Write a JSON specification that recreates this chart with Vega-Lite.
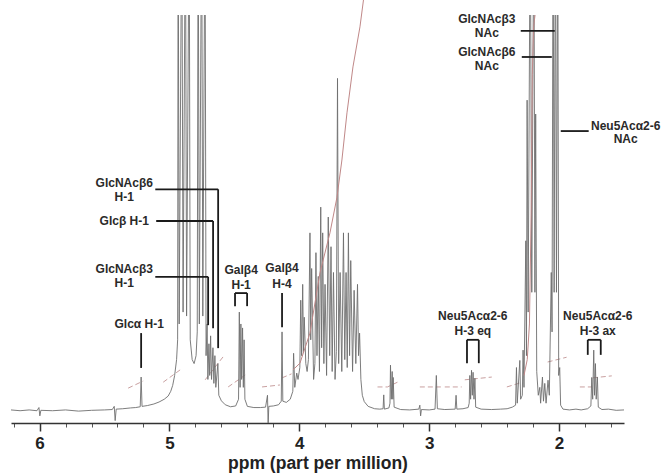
{
  "$schema": "https://vega.github.io/schema/vega-lite/v6.json",
  "width": 613,
  "height": 408,
  "autosize": {"type": "none"},
  "padding": {"left": 11, "top": 15, "right": 39, "bottom": 50},
  "background": "white",
  "config": {"view": {"stroke": null}},
  "datasets": {
    "spectrum": [
      {"ppm": 6.22, "v": 0.3}, {"ppm": 6.15, "v": 0.1}, {"ppm": 6.08, "v": 0.3}, {"ppm": 6.02, "v": 0.1},
      {"ppm": 6.005, "v": 0.9}, {"ppm": 5.998, "v": -1.2}, {"ppm": 5.99, "v": 0.2}, {"ppm": 5.9, "v": 0.1},
      {"ppm": 5.8, "v": 0.3}, {"ppm": 5.7, "v": 0.0}, {"ppm": 5.6, "v": 0.2}, {"ppm": 5.5, "v": 0.3},
      {"ppm": 5.44, "v": 0.4}, {"ppm": 5.425, "v": 1.2}, {"ppm": 5.418, "v": -2.4}, {"ppm": 5.41, "v": 0.5},
      {"ppm": 5.36, "v": 0.6}, {"ppm": 5.3, "v": 0.8}, {"ppm": 5.26, "v": 0.9}, {"ppm": 5.225, "v": 1.1},
      {"ppm": 5.218, "v": 8.6}, {"ppm": 5.211, "v": 1.2}, {"ppm": 5.17, "v": 1.4}, {"ppm": 5.12, "v": 1.8},
      {"ppm": 5.08, "v": 2.3}, {"ppm": 5.04, "v": 3.0}, {"ppm": 5.01, "v": 3.8}, {"ppm": 4.99, "v": 5.0},
      {"ppm": 4.975, "v": 6.5}, {"ppm": 4.96, "v": 9}, {"ppm": 4.945, "v": 13}, {"ppm": 4.937, "v": 18},
      {"ppm": 4.933, "v": 130}, {"ppm": 4.925, "v": 22}, {"ppm": 4.905, "v": 130}, {"ppm": 4.895, "v": 25},
      {"ppm": 4.877, "v": 130}, {"ppm": 4.868, "v": 24},
      {"ppm": 4.848, "v": 130}, {"ppm": 4.84, "v": 18}, {"ppm": 4.825, "v": 13}, {"ppm": 4.81, "v": 12},
      {"ppm": 4.795, "v": 14}, {"ppm": 4.786, "v": 20}, {"ppm": 4.779, "v": 130}, {"ppm": 4.77, "v": 22},
      {"ppm": 4.752, "v": 130}, {"ppm": 4.743, "v": 24},
      {"ppm": 4.726, "v": 130}, {"ppm": 4.718, "v": 14}, {"ppm": 4.71, "v": 22}, {"ppm": 4.704, "v": 8},
      {"ppm": 4.696, "v": 17}, {"ppm": 4.69, "v": 9}, {"ppm": 4.683, "v": 19}, {"ppm": 4.676, "v": 8},
      {"ppm": 4.665, "v": 16}, {"ppm": 4.658, "v": 7}, {"ppm": 4.65, "v": 14}, {"ppm": 4.643, "v": 6},
      {"ppm": 4.627, "v": 12}, {"ppm": 4.62, "v": 4}, {"ppm": 4.6, "v": 2.6}, {"ppm": 4.57, "v": 1.6},
      {"ppm": 4.53, "v": 1.1}, {"ppm": 4.49, "v": 1.3}, {"ppm": 4.468, "v": 3}, {"ppm": 4.462, "v": 25},
      {"ppm": 4.456, "v": 6}, {"ppm": 4.45, "v": 22}, {"ppm": 4.444, "v": 8}, {"ppm": 4.437, "v": 21},
      {"ppm": 4.431, "v": 6}, {"ppm": 4.425, "v": 18}, {"ppm": 4.419, "v": 3}, {"ppm": 4.4, "v": 1.2},
      {"ppm": 4.35, "v": 0.9}, {"ppm": 4.3, "v": 0.9}, {"ppm": 4.26, "v": 1.0}, {"ppm": 4.245, "v": 4},
      {"ppm": 4.24, "v": -3.5}, {"ppm": 4.235, "v": 1.2}, {"ppm": 4.2, "v": 1.3}, {"ppm": 4.16, "v": 1.6},
      {"ppm": 4.139, "v": 2.5}, {"ppm": 4.133, "v": 20}, {"ppm": 4.127, "v": 2.5}, {"ppm": 4.1, "v": 2.2},
      {"ppm": 4.07, "v": 3}, {"ppm": 4.05, "v": 5}, {"ppm": 4.044, "v": 14.6}, {"ppm": 4.035, "v": 6},
      {"ppm": 4.02, "v": 9.6}, {"ppm": 4.01, "v": 8}, {"ppm": 3.996, "v": 11}, {"ppm": 3.989, "v": 28},
      {"ppm": 3.982, "v": 14}, {"ppm": 3.974, "v": 32}, {"ppm": 3.968, "v": 15}, {"ppm": 3.962, "v": 23.7},
      {"ppm": 3.95, "v": 12}, {"ppm": 3.94, "v": 10}, {"ppm": 3.93, "v": 13}, {"ppm": 3.918, "v": 45},
      {"ppm": 3.912, "v": 18}, {"ppm": 3.905, "v": 36}, {"ppm": 3.89, "v": 8}, {"ppm": 3.88, "v": 12},
      {"ppm": 3.872, "v": 40}, {"ppm": 3.864, "v": 14}, {"ppm": 3.854, "v": 34}, {"ppm": 3.845, "v": 10},
      {"ppm": 3.835, "v": 51.5}, {"ppm": 3.828, "v": 16}, {"ppm": 3.82, "v": 45}, {"ppm": 3.811, "v": 12},
      {"ppm": 3.802, "v": 32}, {"ppm": 3.79, "v": 9}, {"ppm": 3.777, "v": 49}, {"ppm": 3.766, "v": 14},
      {"ppm": 3.756, "v": 41.5}, {"ppm": 3.747, "v": 10}, {"ppm": 3.737, "v": 35}, {"ppm": 3.725, "v": 8},
      {"ppm": 3.715, "v": 15}, {"ppm": 3.706, "v": 84}, {"ppm": 3.697, "v": 12}, {"ppm": 3.686, "v": 35},
      {"ppm": 3.673, "v": 10}, {"ppm": 3.66, "v": 45}, {"ppm": 3.65, "v": 13}, {"ppm": 3.64, "v": 35},
      {"ppm": 3.631, "v": 11}, {"ppm": 3.622, "v": 45}, {"ppm": 3.613, "v": 14}, {"ppm": 3.604, "v": 38},
      {"ppm": 3.59, "v": 10}, {"ppm": 3.578, "v": 30.5}, {"ppm": 3.565, "v": 12}, {"ppm": 3.552, "v": 32},
      {"ppm": 3.544, "v": 14}, {"ppm": 3.536, "v": 19.7}, {"ppm": 3.526, "v": 8}, {"ppm": 3.515, "v": 4},
      {"ppm": 3.5, "v": 2.4}, {"ppm": 3.47, "v": 1.2}, {"ppm": 3.42, "v": 0.6}, {"ppm": 3.38, "v": 0.5},
      {"ppm": 3.355, "v": 0.6}, {"ppm": 3.35, "v": 4.1}, {"ppm": 3.345, "v": 0.5}, {"ppm": 3.31, "v": 0.8},
      {"ppm": 3.302, "v": 2}, {"ppm": 3.298, "v": 11.6}, {"ppm": 3.292, "v": 3}, {"ppm": 3.285, "v": 10},
      {"ppm": 3.28, "v": 3}, {"ppm": 3.277, "v": 8.5}, {"ppm": 3.27, "v": 1}, {"ppm": 3.22, "v": 0.4},
      {"ppm": 3.15, "v": 0.3}, {"ppm": 3.08, "v": 0.5}, {"ppm": 3.072, "v": 1.5}, {"ppm": 3.066, "v": -1.2},
      {"ppm": 3.06, "v": 0.4}, {"ppm": 3.0, "v": 0.3}, {"ppm": 2.955, "v": 0.5}, {"ppm": 2.945, "v": 9},
      {"ppm": 2.937, "v": 0.6}, {"ppm": 2.88, "v": 0.4}, {"ppm": 2.8, "v": 0.5}, {"ppm": 2.793, "v": 4},
      {"ppm": 2.787, "v": 0.5}, {"ppm": 2.74, "v": 0.6}, {"ppm": 2.7, "v": 0.9}, {"ppm": 2.692, "v": 2},
      {"ppm": 2.687, "v": 9}, {"ppm": 2.681, "v": 3}, {"ppm": 2.674, "v": 10.3}, {"ppm": 2.668, "v": 4},
      {"ppm": 2.662, "v": 9.8}, {"ppm": 2.655, "v": 3}, {"ppm": 2.648, "v": 8.3}, {"ppm": 2.642, "v": 1},
      {"ppm": 2.6, "v": 0.5}, {"ppm": 2.52, "v": 0.4}, {"ppm": 2.45, "v": 0.5}, {"ppm": 2.4, "v": 0.6},
      {"ppm": 2.36, "v": 1}, {"ppm": 2.335, "v": 1.5}, {"ppm": 2.328, "v": 11}, {"ppm": 2.322, "v": 2},
      {"ppm": 2.302, "v": 12.8}, {"ppm": 2.296, "v": 3}, {"ppm": 2.283, "v": 4}, {"ppm": 2.277, "v": 15.4},
      {"ppm": 2.27, "v": 6}, {"ppm": 2.256, "v": 43}, {"ppm": 2.251, "v": 14}, {"ppm": 2.246, "v": 78.5},
      {"ppm": 2.238, "v": 25}, {"ppm": 2.222, "v": 130}, {"ppm": 2.21, "v": 30}, {"ppm": 2.194, "v": 130},
      {"ppm": 2.186, "v": 30}, {"ppm": 2.18, "v": 75}, {"ppm": 2.172, "v": 10}, {"ppm": 2.16, "v": 4},
      {"ppm": 2.148, "v": 6}, {"ppm": 2.142, "v": 2}, {"ppm": 2.128, "v": 8.6}, {"ppm": 2.12, "v": 2.5},
      {"ppm": 2.11, "v": 7}, {"ppm": 2.1, "v": 2}, {"ppm": 2.085, "v": 7.8}, {"ppm": 2.075, "v": 4},
      {"ppm": 2.06, "v": 35}, {"ppm": 2.054, "v": 20}, {"ppm": 2.046, "v": 130}, {"ppm": 2.038, "v": 30},
      {"ppm": 2.028, "v": 130}, {"ppm": 2.02, "v": 30}, {"ppm": 2.01, "v": 130}, {"ppm": 2.003, "v": 9},
      {"ppm": 1.995, "v": 11}, {"ppm": 1.988, "v": 1.5}, {"ppm": 1.97, "v": 0.5}, {"ppm": 1.92, "v": 0.3},
      {"ppm": 1.87, "v": 0.5}, {"ppm": 1.83, "v": 0.3}, {"ppm": 1.78, "v": 0.6}, {"ppm": 1.755, "v": 1.3},
      {"ppm": 1.748, "v": 8.5}, {"ppm": 1.741, "v": 3}, {"ppm": 1.733, "v": 15.4}, {"ppm": 1.727, "v": 4},
      {"ppm": 1.72, "v": 12}, {"ppm": 1.714, "v": 3}, {"ppm": 1.705, "v": 8.6}, {"ppm": 1.698, "v": 1},
      {"ppm": 1.67, "v": 0.4}, {"ppm": 1.62, "v": 0.5}, {"ppm": 1.56, "v": 0.2}, {"ppm": 1.5, "v": 0.3}
    ],
    "integral": [
      {"seg": "a", "ppm": 5.318, "v": 5.8}, {"seg": "a", "ppm": 5.202, "v": 7.6},
      {"seg": "b", "ppm": 5.048, "v": 7.3}, {"seg": "b", "ppm": 4.918, "v": 10.4},
      {"seg": "c", "ppm": 4.725, "v": 7.9}, {"seg": "c", "ppm": 4.587, "v": 13.7},
      {"seg": "d", "ppm": 4.548, "v": 6.1}, {"seg": "d", "ppm": 4.417, "v": 9.1},
      {"seg": "e", "ppm": 4.287, "v": 6.1}, {"seg": "e", "ppm": 4.149, "v": 6.6},
      {"seg": "f", "ppm": 4.133, "v": 8.4}, {"seg": "f", "ppm": 4.06, "v": 9.4},
      {"seg": "h", "ppm": 3.398, "v": 6.1}, {"seg": "h", "ppm": 3.321, "v": 6.1}, {"seg": "h", "ppm": 3.244, "v": 7.3},
      {"seg": "i", "ppm": 3.072, "v": 6.1}, {"seg": "i", "ppm": 2.903, "v": 6.1},
      {"seg": "j", "ppm": 2.88, "v": 6.1}, {"seg": "j", "ppm": 2.75, "v": 6.1},
      {"seg": "k", "ppm": 2.726, "v": 7.9}, {"seg": "k", "ppm": 2.518, "v": 8.6},
      {"seg": "l", "ppm": 2.402, "v": 6.1}, {"seg": "l", "ppm": 2.302, "v": 7.1},
      {"seg": "m", "ppm": 2.088, "v": 12.4}, {"seg": "m", "ppm": 1.942, "v": 13.6},
      {"seg": "n", "ppm": 1.84, "v": 6.1}, {"seg": "n", "ppm": 1.748, "v": 6.1},
      {"seg": "o", "ppm": 1.74, "v": 8.4}, {"seg": "o", "ppm": 1.594, "v": 8.9}
    ],
    "integralLong": [
      {"seg": "g", "ppm": 4.049, "v": 10.4}, {"seg": "g", "ppm": 3.995, "v": 12.1}, {"seg": "g", "ppm": 3.918, "v": 19.7},
      {"seg": "g", "ppm": 3.841, "v": 34.9}, {"seg": "g", "ppm": 3.764, "v": 45}, {"seg": "g", "ppm": 3.71, "v": 54},
      {"seg": "g", "ppm": 3.672, "v": 63.4}, {"seg": "g", "ppm": 3.633, "v": 75.3}, {"seg": "g", "ppm": 3.587, "v": 86.9},
      {"seg": "g", "ppm": 3.533, "v": 97}, {"seg": "g", "ppm": 3.506, "v": 103.8},
      {"seg": "p", "ppm": 2.27, "v": 9.0}, {"seg": "p", "ppm": 2.245, "v": 13}, {"seg": "p", "ppm": 2.228, "v": 22},
      {"seg": "p", "ppm": 2.215, "v": 50}, {"seg": "p", "ppm": 2.206, "v": 85}, {"seg": "p", "ppm": 2.196, "v": 97},
      {"seg": "p", "ppm": 2.185, "v": 100}
    ],
    "leaders": [
      {"p1": 5.218, "p2": 5.218, "v1": 19.7, "v2": 10.9},
      {"p1": 5.109, "p2": 4.625, "v1": 56.0, "v2": 56.0},
      {"p1": 4.625, "p2": 4.625, "v1": 56.0, "v2": 15.9},
      {"p1": 5.102, "p2": 4.664, "v1": 48.0, "v2": 48.0},
      {"p1": 4.664, "p2": 4.664, "v1": 48.0, "v2": 20.9},
      {"p1": 5.109, "p2": 4.702, "v1": 33.9, "v2": 33.9},
      {"p1": 4.702, "p2": 4.702, "v1": 33.9, "v2": 21.7},
      {"p1": 4.495, "p2": 4.402, "v1": 29.8, "v2": 29.8},
      {"p1": 4.495, "p2": 4.495, "v1": 29.8, "v2": 26.5},
      {"p1": 4.402, "p2": 4.402, "v1": 29.8, "v2": 26.5},
      {"p1": 4.133, "p2": 4.133, "v1": 29.8, "v2": 21.2},
      {"p1": 2.709, "p2": 2.618, "v1": 18.0, "v2": 18.0},
      {"p1": 2.709, "p2": 2.709, "v1": 18.0, "v2": 12.1},
      {"p1": 2.618, "p2": 2.618, "v1": 18.0, "v2": 12.1},
      {"p1": 1.779, "p2": 1.679, "v1": 18.0, "v2": 18.0},
      {"p1": 1.779, "p2": 1.779, "v1": 18.0, "v2": 14.2},
      {"p1": 1.679, "p2": 1.679, "v1": 18.0, "v2": 14.2},
      {"p1": 2.295, "p2": 2.033, "v1": 96.0, "v2": 96.0},
      {"p1": 2.287, "p2": 2.056, "v1": 89.4, "v2": 89.4},
      {"p1": 1.987, "p2": 1.772, "v1": 70.7, "v2": 70.7}
    ],
    "labels": [
      {"ppm": 5.233, "v": 22.0, "t": "Glcα H-1"},
      {"ppm": 5.348, "v": 57.6, "t": "GlcNAcβ6"},
      {"ppm": 5.348, "v": 54.1, "t": "H-1"},
      {"ppm": 5.348, "v": 48.0, "t": "Glcβ H-1"},
      {"ppm": 5.348, "v": 35.9, "t": "GlcNAcβ3"},
      {"ppm": 5.348, "v": 32.3, "t": "H-1"},
      {"ppm": 4.448, "v": 35.6, "t": "Galβ4"},
      {"ppm": 4.448, "v": 31.8, "t": "H-1"},
      {"ppm": 4.133, "v": 36.1, "t": "Galβ4"},
      {"ppm": 4.133, "v": 32.1, "t": "H-4"},
      {"ppm": 2.664, "v": 24.0, "t": "Neu5Acα2-6"},
      {"ppm": 2.664, "v": 20.2, "t": "H-3 eq"},
      {"ppm": 1.702, "v": 24.0, "t": "Neu5Acα2-6"},
      {"ppm": 1.702, "v": 20.2, "t": "H-3 ax"},
      {"ppm": 2.556, "v": 99.0, "t": "GlcNAcβ3"},
      {"ppm": 2.556, "v": 95.5, "t": "NAc"},
      {"ppm": 2.556, "v": 90.7, "t": "GlcNAcβ6"},
      {"ppm": 2.556, "v": 87.1, "t": "NAc"},
      {"ppm": 1.487, "v": 72.0, "t": "Neu5Acα2-6"},
      {"ppm": 1.487, "v": 68.7, "t": "NAc"}
    ]
  },
  "resolve": {"axis": {"x": "independent"}},
  "layer": [
    {
      "data": {"name": "integral"},
      "mark": {"type": "line", "color": "#c9a0a0", "strokeWidth": 1, "strokeDash": [5, 3]},
      "encoding": {
        "x": {"field": "ppm", "type": "quantitative",
              "scale": {"domain": [1.5, 6.22], "reverse": true, "nice": false, "zero": false},
              "axis": {"orient": "bottom", "values": [1.6, 1.8, 2.2, 2.4, 2.6, 2.8, 3.2, 3.4, 3.6, 3.8, 4.2, 4.4, 4.6, 4.8, 5.2, 5.4, 5.6, 5.8, 6.2],
                       "labels": false, "domain": false, "grid": false, "title": null, "tickSize": 4, "tickWidth": 1, "tickColor": "#555"}},
        "y": {"field": "v", "type": "quantitative", "scale": {"domain": [-3, 100], "nice": false, "zero": false}, "axis": null},
        "detail": {"field": "seg"}
      }
    },
    {
      "data": {"name": "spectrum"},
      "mark": {"type": "line", "clip": true, "color": "#6e6e6e", "strokeWidth": 0.9},
      "encoding": {
        "x": {"field": "ppm", "type": "quantitative",
              "axis": {"orient": "bottom", "values": [2, 3, 4, 5, 6], "format": "d", "title": "ppm (part per million)",
                       "grid": false, "tickSize": 8, "tickWidth": 1.5, "tickColor": "#333", "domainColor": "#333", "domainWidth": 1.5,
                       "labelFont": "Liberation Sans", "labelFontWeight": "bold", "labelFontSize": 17, "labelColor": "#222",
                       "labelPadding": 4, "labelFlush": false,
                       "titleFont": "Liberation Sans", "titleFontWeight": "bold", "titleFontSize": 17.5, "titleColor": "#222", "titlePadding": 3}},
        "y": {"field": "v", "type": "quantitative", "axis": null}
      }
    },
    {
      "data": {"name": "integralLong"},
      "mark": {"type": "line", "color": "#c08888", "strokeWidth": 1},
      "encoding": {
        "x": {"field": "ppm", "type": "quantitative", "axis": null},
        "y": {"field": "v", "type": "quantitative", "axis": null},
        "detail": {"field": "seg"}
      }
    },
    {
      "data": {"name": "leaders"},
      "mark": {"type": "rule", "color": "#1a1a1a", "strokeWidth": 1.8},
      "encoding": {
        "x": {"field": "p1", "type": "quantitative", "axis": null},
        "x2": {"field": "p2"},
        "y": {"field": "v1", "type": "quantitative", "axis": null},
        "y2": {"field": "v2"}
      }
    },
    {
      "data": {"name": "labels"},
      "mark": {"type": "text", "font": "Liberation Sans", "fontWeight": "bold", "fontSize": 12, "color": "#2a2a2a", "align": "center", "baseline": "middle"},
      "encoding": {
        "x": {"field": "ppm", "type": "quantitative", "axis": null},
        "y": {"field": "v", "type": "quantitative", "axis": null},
        "text": {"field": "t"}
      }
    }
  ]
}
